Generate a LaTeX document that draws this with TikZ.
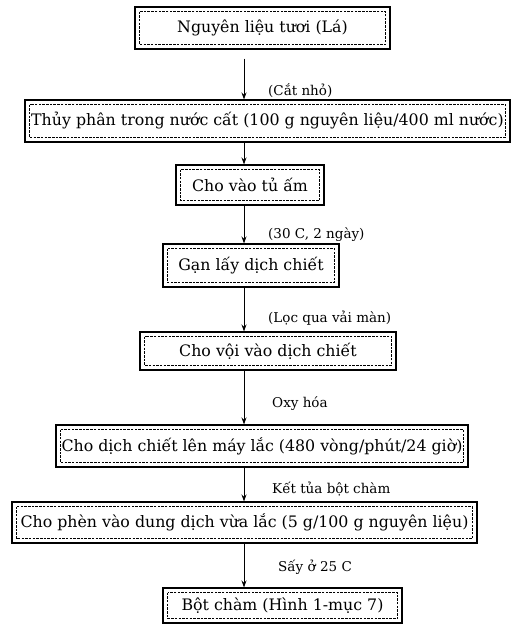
\documentclass[tikz,border=0pt]{standalone}
\usepackage{fontspec}
\setmainfont{DejaVu Serif}
\usetikzlibrary{arrows.meta,calc}

\tikzset{
  stepbox/.style={draw, line width=1.1pt, inner sep=0pt,
    font=\fontsize{15.8}{18}\selectfont,
    path picture={\draw[line width=0.6pt, dash pattern=on 2.5pt off 1.2pt]
      ([shift={(4.5pt,-4.5pt)}]path picture bounding box.north west) rectangle
      ([shift={(-4.5pt,4.5pt)}]path picture bounding box.south east);}},
  note/.style={anchor=west, inner sep=0pt, font=\fontsize{13.5}{16}\selectfont},
  flow/.style={-{Stealth[length=7pt,width=5pt]}, line width=1pt}
}

\begin{document}
\begin{tikzpicture}[x=1pt,y=-1pt]
  \useasboundingbox (0,0) rectangle (516,630); % same frame as the scan

  % process boxes, placed at their pixel positions
  \node[stepbox, minimum width=255pt, minimum height=42pt] (nguyenlieu) at (262.5,28) {Nguyên liệu tươi (Lá)};
  \node[stepbox, minimum width=485pt, minimum height=42pt] (thuyphan) at (267.5,121) {Thủy phân trong nước cất (100 g nguyên liệu/400 ml nước)};
  \node[stepbox, minimum width=148pt, minimum height=40pt] (tuam) at (250,185) {Cho vào tủ ấm};
  \node[stepbox, minimum width=176pt, minimum height=43pt] (ganlay) at (251,265.5) {Gạn lấy dịch chiết};
  \node[stepbox, minimum width=256pt, minimum height=38pt] (choivoi) at (268,351) {Cho vội vào dịch chiết};
  \node[stepbox, minimum width=412pt, minimum height=42pt] (maylac) at (262,446) {Cho dịch chiết lên máy lắc (480 vòng/phút/24 giờ)};
  \node[stepbox, minimum width=465pt, minimum height=41pt] (chophen) at (244.5,522.5) {Cho phèn vào dung dịch vừa lắc (5 g/100 g nguyên liệu)};
  \node[stepbox, minimum width=239pt, minimum height=35pt] (botcham) at (282.5,605.5) {Bột chàm (Hình 1-mục 7)};

  % the arrows all run down one vertical line
  \coordinate (axis) at (244,0);
  \draw[flow, shorten <=9pt] (nguyenlieu.south -| axis) -- (thuyphan.north -| axis);
  \foreach \a/\b in {thuyphan/tuam, tuam/ganlay, ganlay/choivoi, choivoi/maylac, maylac/chophen, chophen/botcham}
    \draw[flow] (\a.south -| axis) -- (\b.north -| axis);

  % notes beside the arrows
  \node[note] (catnho) at (268,91) {(Cắt nhỏ)};
  \node[note] (nhietdo) at (268,235) {(30 C, 2 ngày)};
  \node[note] (loc) at (268,318) {(Lọc qua vải màn)};
  \node[note] (oxyhoa) at (272,404) {Oxy hóa};
  \node[note] (kettua) at (272,489) {Kết tủa bột chàm};
  \node[note] (say) at (278,567) {Sấy ở 25 C};
\end{tikzpicture}
\end{document}
